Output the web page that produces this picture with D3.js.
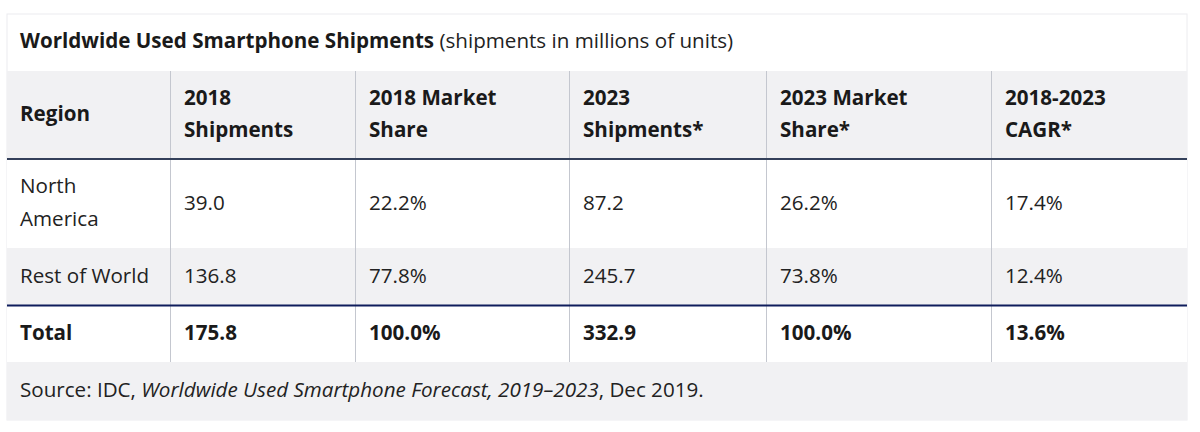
<!DOCTYPE html>
<html>
<head>
<meta charset="utf-8">
<script src="https://cdn.jsdelivr.net/npm/d3@7"></script>
<style>
  html, body { margin: 0; padding: 0; background: #fff; }
  svg { display: block; font-family: "Open Sans", sans-serif; }
</style>
</head>
<body>
<svg id="chart" width="1200" height="432"></svg>
<script>
// ---- data ----
const titleBold = "Worldwide Used Smartphone Shipments";
const titleRest = " (shipments in millions of units)";
const headers = [["Region"], ["2018", "Shipments"], ["2018 Market", "Share"], ["2023", "Shipments*"], ["2023 Market", "Share*"], ["2018-2023", "CAGR*"]];
const regions = [["North", "America"], ["Rest of World"]];
const shipments2018 = [39.0, 136.8];
const share2018 = [22.2, 77.8];
const shipments2023 = [87.2, 245.7];
const share2023 = [26.2, 73.8];
const cagr = [17.4, 12.4];
const totalLabel = "Total";
const totals = [175.8, 100.0, 332.9, 100.0, 13.6];
const sourceParts = [["Source: IDC, ", false], ["Worldwide Used Smartphone Forecast, 2019\u20132023", true], [", Dec 2019.", false]];

// ---- layout ----
(function () {
const svg = d3.select("#chart");
const left = 7, right = 1187, tableTop = 14;
const colEdges = [left, 170, 355, 569, 766, 991, right];
const rowsY = { header: [71, 159], na: [159, 248], row: [248, 305], total: [305, 362], source: [362, 420] };
const grayBg = "#f1f1f3";
const textColor = "#1a1a1a";
const fs = 20.6;

const fmt1 = d3.format(".1f");
const pct = v => fmt1(v) + "%";

// backgrounds
svg.append("rect").attr("x", left).attr("y", tableTop).attr("width", right - left).attr("height", 420 - tableTop)
  .attr("fill", "#fff").attr("stroke", "#ececef").attr("stroke-width", 1);
[["header", grayBg], ["na", "#fff"], ["row", grayBg], ["total", "#fff"], ["source", grayBg]].forEach(([k, c]) => {
  svg.append("rect").attr("x", left).attr("y", rowsY[k][0]).attr("width", right - left)
    .attr("height", rowsY[k][1] - rowsY[k][0]).attr("fill", c);
});

// column dividers
colEdges.slice(1, -1).forEach(x => {
  svg.append("line").attr("x1", x + 0.5).attr("x2", x + 0.5).attr("y1", rowsY.header[0]).attr("y2", rowsY.total[1])
    .attr("stroke", "#c4c7cf").attr("stroke-width", 1);
});

// horizontal rules
svg.append("rect").attr("x", left).attr("y", 158).attr("width", right - left).attr("height", 2).attr("fill", "#34405a");
svg.append("rect").attr("x", left).attr("y", 304.5).attr("width", right - left).attr("height", 2).attr("fill", "#0f1d5c");

// title
const tt = svg.append("text").attr("x", 20).attr("y", 48).attr("font-size", fs).attr("fill", textColor);
tt.append("tspan").attr("font-weight", 700).text(titleBold);
tt.append("tspan").attr("font-weight", 400).attr("fill", "#222").text(titleRest);

function cellText(col, baselines, lines, weight) {
  const t = svg.append("text")
    .attr("font-size", fs).attr("font-weight", weight).attr("fill", weight === 700 ? textColor : "#222");
  lines.forEach((l, i) => t.append("tspan").attr("x", (col === 0 ? 20 : colEdges[col] + 14)).attr("y", baselines[i]).text(l));
}

// header
headers.forEach((h, i) => {
  if (h.length === 1) cellText(i, [121], h, 700);
  else cellText(i, [105, 137], h, 700);
});

// body rows
const rowBase = [[193, 226], [283]];
const valBase = [210, 283];
regions.forEach((r, j) => {
  cellText(0, rowBase[j], r, 400);
  const vals = [fmt1(shipments2018[j]), pct(share2018[j]), fmt1(shipments2023[j]), pct(share2023[j]), pct(cagr[j])];
  vals.forEach((v, i) => cellText(i + 1, [valBase[j]], [v], 400));
});

// total
cellText(0, [340], [totalLabel], 700);
const totVals = [fmt1(totals[0]), pct(totals[1]), fmt1(totals[2]), pct(totals[3]), pct(totals[4])];
totVals.forEach((v, i) => cellText(i + 1, [340], [v], 700));

// source
const st = svg.append("text").attr("x", 20).attr("y", 397).attr("font-size", fs).attr("fill", "#222");
sourceParts.forEach(([s, it]) => st.append("tspan").attr("font-style", it ? "italic" : "normal").text(s));
})();
</script>
</body>
</html>
